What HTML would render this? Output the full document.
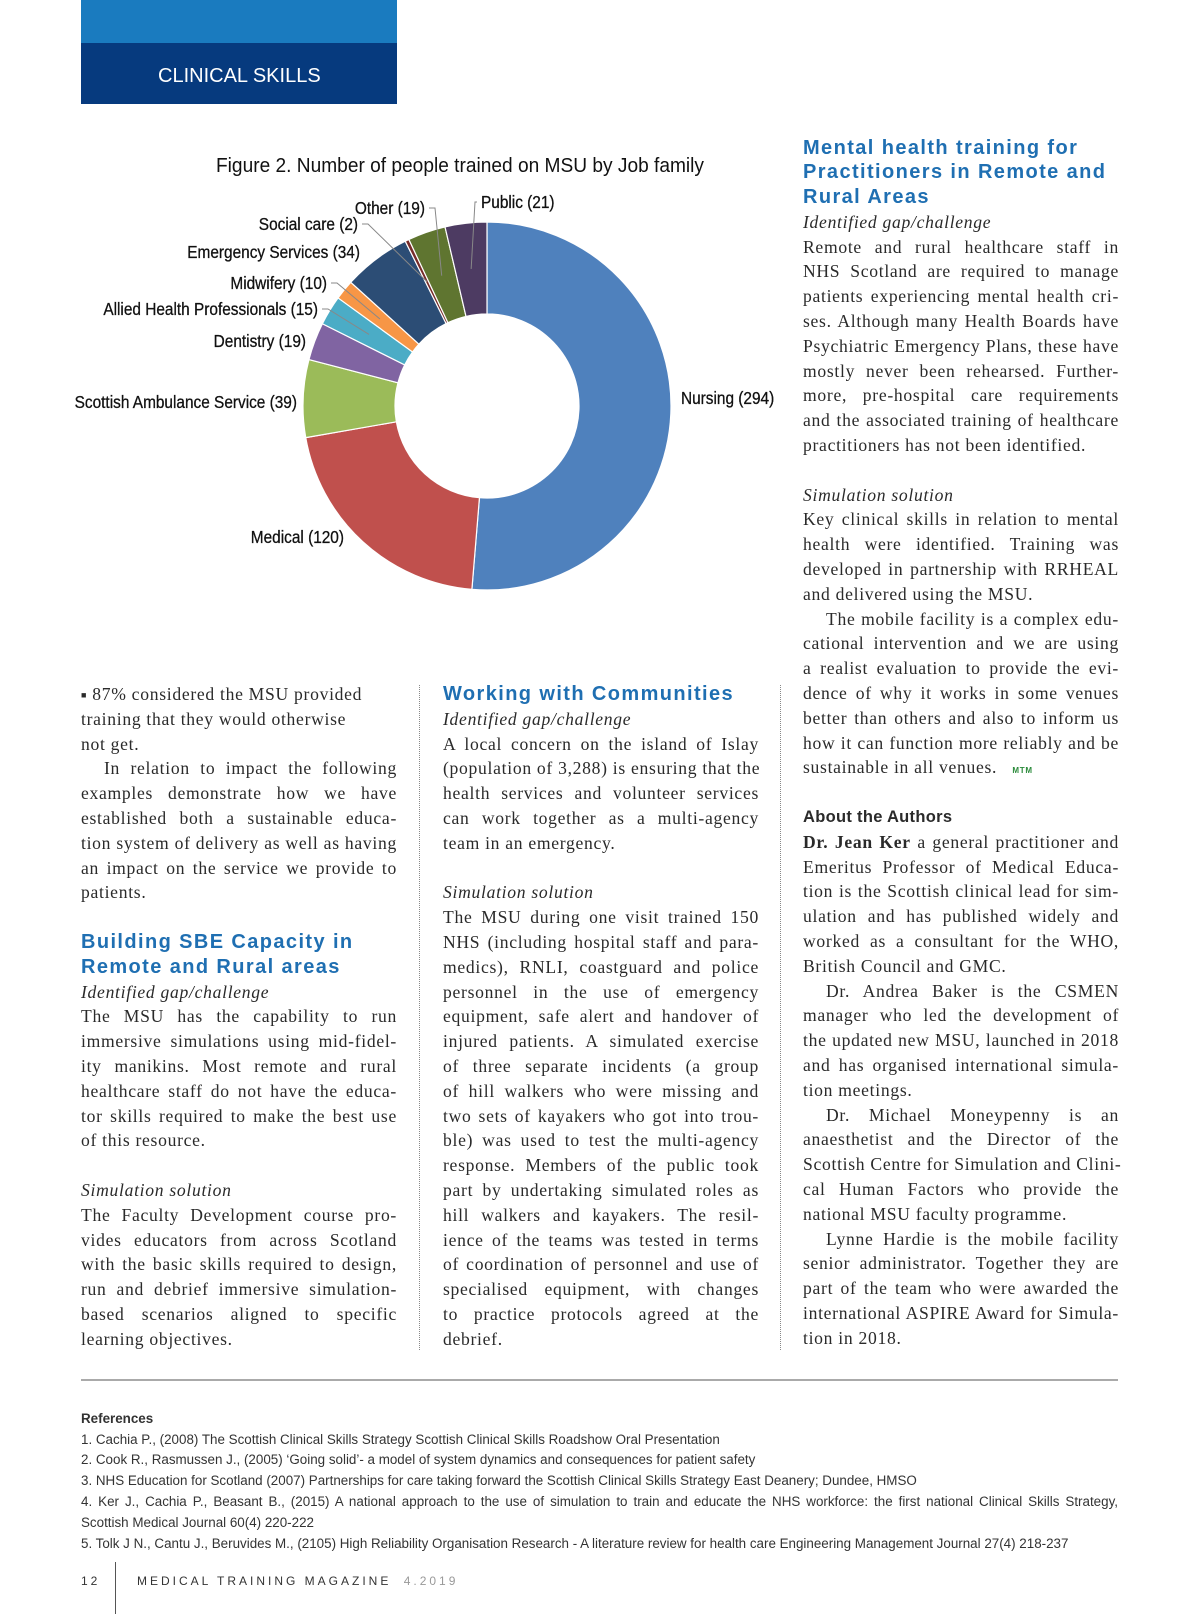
<!DOCTYPE html>
<html><head><meta charset="utf-8"><style>
body{margin:0;width:1200px;height:1614px;position:relative;background:#fff;overflow:hidden;font-family:"Liberation Serif",serif;color:#2a2a2a}
.col{position:absolute;width:316px}
.l{height:24.8px;line-height:24.8px;font-size:17.6px;white-space:nowrap;text-align:justify;text-align-last:justify;letter-spacing:0.7px}
.e{text-align-last:left}
.i{font-style:italic}
.in{padding-left:23px}
.h{font-family:"Liberation Sans",sans-serif;font-weight:bold;color:#1f6fb2;font-size:20px;text-align-last:left;letter-spacing:1.4px}
.b{font-weight:bold;font-family:"Liberation Sans",sans-serif;font-size:16.5px;letter-spacing:0.3px}
.dot{position:absolute;border-left:1px dotted #888;width:0}
.ref{position:absolute;left:81px;font-family:"Liberation Sans",sans-serif;font-size:13.4px;color:#333;white-space:nowrap}
</style></head><body>
<div style="position:absolute;left:81px;top:0;width:316px;height:104px;background:#063a7e">
 <div style="height:43px;background:#1a7bbf"></div>
 <div style="position:absolute;left:77px;top:65px;color:#fff;font-family:'Liberation Sans',sans-serif;font-size:20px;letter-spacing:0px">CLINICAL SKILLS</div>
</div>

<svg id="chart" width="800" height="620" style="position:absolute;left:0;top:0" xmlns="http://www.w3.org/2000/svg">
 <text x="460" y="172" text-anchor="middle" font-family="Liberation Sans, sans-serif" font-size="20" fill="#111" textLength="488" lengthAdjust="spacingAndGlyphs">Figure 2. Number of people trained on MSU by Job family</text>
</svg>

<div class="col" style="left:803px;top:135.5px">
<div class="l h">Mental health training for</div>
<div class="l h">Practitioners in Remote and</div>
<div class="l h">Rural Areas</div>
<div class="l i e">Identified gap/challenge</div>
<div class="l">Remote and rural healthcare staff in</div>
<div class="l">NHS Scotland are required to manage</div>
<div class="l">patients experiencing mental health cri-</div>
<div class="l">ses. Although many Health Boards have</div>
<div class="l">Psychiatric Emergency Plans, these have</div>
<div class="l">mostly never been rehearsed. Further-</div>
<div class="l">more, pre-hospital care requirements</div>
<div class="l">and the associated training of healthcare</div>
<div class="l e">practitioners has not been identified.</div>
<div class="l"></div>
<div class="l i e">Simulation solution</div>
<div class="l">Key clinical skills in relation to mental</div>
<div class="l">health were identified. Training was</div>
<div class="l">developed in partnership with RRHEAL</div>
<div class="l e">and delivered using the MSU.</div>
<div class="l in">The mobile facility is a complex edu-</div>
<div class="l">cational intervention and we are using</div>
<div class="l">a realist evaluation to provide the evi-</div>
<div class="l">dence of why it works in some venues</div>
<div class="l">better than others and also to inform us</div>
<div class="l">how it can function more reliably and be</div>
<div class="l e">sustainable in all venues. &nbsp;&nbsp;<span style="font:bold 8px 'Liberation Sans',sans-serif;color:#2a8a3a">MTM</span></div>
<div class="l"></div>
<div class="l e b">About the Authors</div>
<div class="l"><span style="font-weight:600">Dr. Jean Ker</span> a general practitioner and</div>
<div class="l">Emeritus Professor of Medical Educa-</div>
<div class="l">tion is the Scottish clinical lead for sim-</div>
<div class="l">ulation and has published widely and</div>
<div class="l">worked as a consultant for the WHO,</div>
<div class="l e">British Council and GMC.</div>
<div class="l in">Dr. Andrea Baker is the CSMEN</div>
<div class="l">manager who led the development of</div>
<div class="l">the updated new MSU, launched in 2018</div>
<div class="l">and has organised international simula-</div>
<div class="l e">tion meetings.</div>
<div class="l in">Dr. Michael Moneypenny is an</div>
<div class="l">anaesthetist and the Director of the</div>
<div class="l">Scottish Centre for Simulation and Clini-</div>
<div class="l">cal Human Factors who provide the</div>
<div class="l e">national MSU faculty programme.</div>
<div class="l in">Lynne Hardie is the mobile facility</div>
<div class="l">senior administrator. Together they are</div>
<div class="l">part of the team who were awarded the</div>
<div class="l">international ASPIRE Award for Simula-</div>
<div class="l e">tion in 2018.</div>
</div>

<div class="col" style="left:81px;top:682px">
<div class="l e"><span style="font-size:9px;vertical-align:2px">&#9632;</span> 87% considered the MSU provided</div>
<div class="l e">training that they would otherwise</div>
<div class="l e">not get.</div>
<div class="l in">In relation to impact the following</div>
<div class="l">examples demonstrate how we have</div>
<div class="l">established both a sustainable educa-</div>
<div class="l">tion system of delivery as well as having</div>
<div class="l">an impact on the service we provide to</div>
<div class="l e">patients.</div>
<div class="l"></div>
<div class="l h">Building SBE Capacity in</div>
<div class="l h">Remote and Rural areas</div>
<div class="l i e">Identified gap/challenge</div>
<div class="l">The MSU has the capability to run</div>
<div class="l">immersive simulations using mid-fidel-</div>
<div class="l">ity manikins. Most remote and rural</div>
<div class="l">healthcare staff do not have the educa-</div>
<div class="l">tor skills required to make the best use</div>
<div class="l e">of this resource.</div>
<div class="l"></div>
<div class="l i e">Simulation solution</div>
<div class="l">The Faculty Development course pro-</div>
<div class="l">vides educators from across Scotland</div>
<div class="l">with the basic skills required to design,</div>
<div class="l">run and debrief immersive simulation-</div>
<div class="l">based scenarios aligned to specific</div>
<div class="l e">learning objectives.</div>
</div>

<div class="col" style="left:443px;top:682px">
<div class="l h">Working with Communities</div>
<div class="l i e">Identified gap/challenge</div>
<div class="l">A local concern on the island of Islay</div>
<div class="l">(population of 3,288) is ensuring that the</div>
<div class="l">health services and volunteer services</div>
<div class="l">can work together as a multi-agency</div>
<div class="l e">team in an emergency.</div>
<div class="l"></div>
<div class="l i e">Simulation solution</div>
<div class="l">The MSU during one visit trained 150</div>
<div class="l">NHS (including hospital staff and para-</div>
<div class="l">medics), RNLI, coastguard and police</div>
<div class="l">personnel in the use of emergency</div>
<div class="l">equipment, safe alert and handover of</div>
<div class="l">injured patients. A simulated exercise</div>
<div class="l">of three separate incidents (a group</div>
<div class="l">of hill walkers who were missing and</div>
<div class="l">two sets of kayakers who got into trou-</div>
<div class="l">ble) was used to test the multi-agency</div>
<div class="l">response. Members of the public took</div>
<div class="l">part by undertaking simulated roles as</div>
<div class="l">hill walkers and kayakers. The resil-</div>
<div class="l">ience of the teams was tested in terms</div>
<div class="l">of coordination of personnel and use of</div>
<div class="l">specialised equipment, with changes</div>
<div class="l">to practice protocols agreed at the</div>
<div class="l e">debrief.</div>
</div>

<div class="dot" style="left:419px;top:685px;height:665px"></div>
<div class="dot" style="left:780px;top:685px;height:665px"></div>

<div style="position:absolute;left:81px;top:1379px;width:1037px;height:2px;background:#aaa"></div>
<div class="ref" style="top:1411px;font-weight:bold">References</div>
<div class="ref" style="top:1432px">1. Cachia P., (2008) The Scottish Clinical Skills Strategy Scottish Clinical Skills Roadshow Oral Presentation</div>
<div class="ref" style="top:1452px">2. Cook R., Rasmussen J., (2005) ‘Going solid’- a model of system dynamics and consequences for patient safety</div>
<div class="ref" style="top:1473px">3. NHS Education for Scotland (2007) Partnerships for care taking forward the Scottish Clinical Skills Strategy East Deanery; Dundee, HMSO</div>
<div class="ref" style="top:1494px;width:1037px;text-align:justify;text-align-last:justify">4. Ker J., Cachia P., Beasant B., (2015) A national approach to the use of simulation to train and educate the NHS workforce: the first national Clinical Skills Strategy,</div>
<div class="ref" style="top:1515px">Scottish Medical Journal 60(4) 220-222</div>
<div class="ref" style="top:1536px">5. Tolk J N., Cantu J., Beruvides M., (2105) High Reliability Organisation Research - A literature review for health care Engineering Management Journal 27(4) 218-237</div>

<div style="position:absolute;left:81px;top:1574px;font:12px 'Liberation Sans',sans-serif;letter-spacing:3px;color:#333">12</div>
<div style="position:absolute;left:115px;top:1562px;width:1px;height:52px;background:#555"></div>
<div style="position:absolute;left:137px;top:1574px;font:12px 'Liberation Sans',sans-serif;letter-spacing:3px;color:#333">MEDICAL TRAINING MAGAZINE <span style="color:#999;margin-left:6px">4.2019</span></div>

<script>
const categories=["Nursing","Medical","Scottish Ambulance Service","Dentistry","Allied Health Professionals","Midwifery","Emergency Services","Social care","Other","Public"];
const values=[294,120,39,19,15,10,34,2,19,21];
const colors=["#4f81bd","#c0504d","#9bbb59","#8064a2","#4bacc6","#f79646","#2c4d75","#772c2a","#5f7530","#4d3b62"];
const labelAnchors=[[681,404,"start"],[344,543,"end"],[297,408,"end"],[306,347,"end"],[318,315,"end"],[327,289,"end"],[360,258,"end"],[358,230,"end"],[425,214,"end"],[481,208,"start"]];
const leaders=[false,false,false,false,true,true,false,true,true,true];
const svg=document.getElementById('chart');
const NS="http://www.w3.org/2000/svg";
const cx=487,cy=406,R=184,r=92;
const total=values.reduce((a,b)=>a+b,0);
function ang(v){return v/total*2*Math.PI-Math.PI/2;}
function pt(a,rad){return [cx+rad*Math.cos(a),cy+rad*Math.sin(a)];}
let acc=0;
values.forEach((v,i)=>{
  const a0=ang(acc),a1=ang(acc+v);acc+=v;
  const large=(a1-a0)>Math.PI?1:0;
  const p0=pt(a0,R),p1=pt(a1,R),q1=pt(a1,r),q0=pt(a0,r);
  const p=document.createElementNS(NS,'path');
  p.setAttribute('d',`M${p0[0]},${p0[1]}A${R},${R} 0 ${large} 1 ${p1[0]},${p1[1]}L${q1[0]},${q1[1]}A${r},${r} 0 ${large} 0 ${q0[0]},${q0[1]}Z`);
  p.setAttribute('fill',colors[i]);p.setAttribute('stroke','#fff');p.setAttribute('stroke-width','1.2');
  
  
  svg.appendChild(p);
  const la=labelAnchors[i];
  if(leaders[i]){
    const m=pt((a0+a1)/2,(R+r)/2);
    const sx=la[2]==="end"?la[0]+4:la[0]-4, sy=la[1]-6;
    const ln=document.createElementNS(NS,'polyline');
    ln.setAttribute('points',`${sx},${sy} ${sx+(la[2]==="end"?6:-2)},${sy} ${m[0]},${m[1]}`);
    ln.setAttribute('fill','none');ln.setAttribute('stroke','#888');ln.setAttribute('stroke-width','1');
    
    
    svg.appendChild(ln);
  }
  const t=document.createElementNS(NS,'text');
  t.setAttribute('x',0);t.setAttribute('y',0);t.setAttribute('text-anchor',la[2]);
  t.setAttribute('transform',`translate(${la[0]},${la[1]}) scale(0.88,1)`);
  t.setAttribute('font-family','Liberation Sans, sans-serif');
  t.setAttribute('font-size','17.5');t.setAttribute('fill','#111');
  t.setAttribute('stroke','#111');t.setAttribute('stroke-width','0.3');
  t.textContent=categories[i]+" ("+v+")";
  
  
  svg.appendChild(t);
});
</script>
</body></html>
